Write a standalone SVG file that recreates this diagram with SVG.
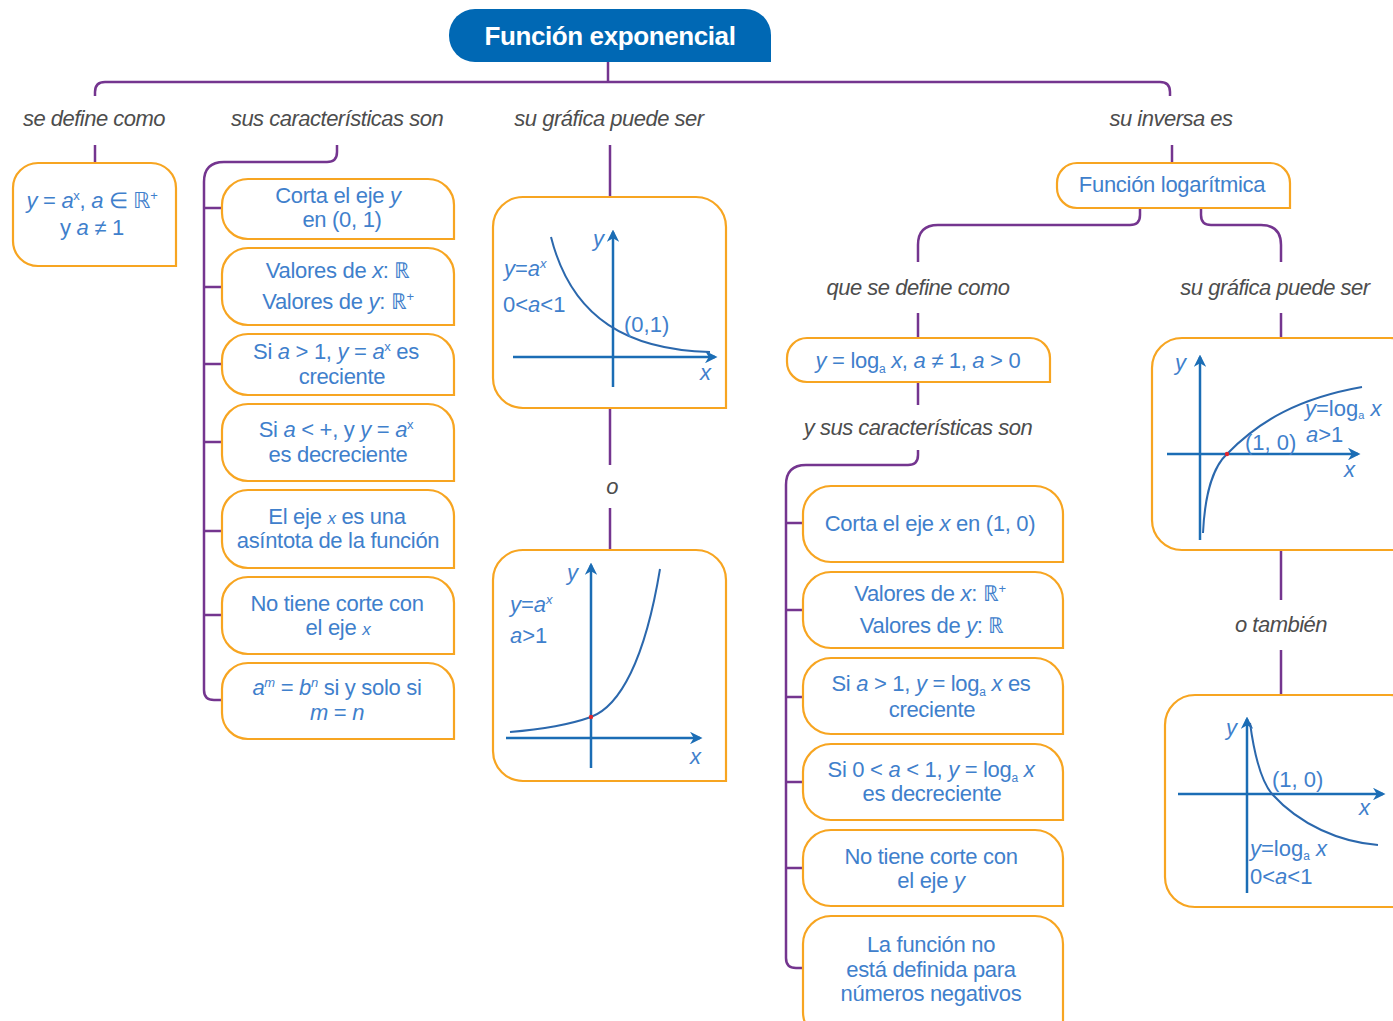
<svg xmlns="http://www.w3.org/2000/svg" width="1393" height="1021" viewBox="0 0 1393 1021">
<style>
.box{fill:#fff;stroke:#f7a521;stroke-width:2.2}
.con{fill:none;stroke:#74358f;stroke-width:2.5}
.lbl{font-family:"Liberation Sans",Arial,sans-serif;font-style:italic;font-size:22px;fill:#4d4d4d;letter-spacing:-0.5px;text-anchor:middle}
.bt{font-family:"Liberation Sans",Arial,sans-serif;font-size:22px;fill:#3f80cc;letter-spacing:-0.3px;text-anchor:middle}
.gt{font-family:"Liberation Sans",Arial,sans-serif;font-size:22px;fill:#3f80cc;letter-spacing:0px}
.i{font-style:italic}
.ax{fill:none;stroke:#1b6db5;stroke-width:2.5}
.cv{fill:none;stroke:#2b68ad;stroke-width:2}
.title{font-family:"Liberation Sans",Arial,sans-serif;font-weight:bold;font-size:26px;fill:#fff;letter-spacing:-0.4px;text-anchor:middle}
</style>
<defs>
<marker id="ah" viewBox="0 0 10 10" refX="8" refY="5" markerWidth="5" markerHeight="5" orient="auto"><path d="M0,0 L10,5 L0,10 L3,5 Z" fill="#1b6db5"/></marker>
</defs>
<rect width="1393" height="1021" fill="#fff"/>

<g id="connectors">
<path class="con" d="M608,62 V82"/>
<path class="con" d="M95,96 V92 Q95,82 105,82 H1160 Q1170,82 1170,92 V96"/>
<path class="con" d="M95,145 V163"/>
<path class="con" d="M337,145 V152 Q337,162 327,162 H224 Q204,162 204,182 V690 Q204,700 214,700 H222"/>
<path class="con" d="M204,208 H222 M204,287 H222 M204,364 H222 M204,442 H222 M204,531 H222 M204,615 H222"/>
<path class="con" d="M610,145 V197 M610,408 V465 M610,508 V550"/>
<path class="con" d="M1172,145 V163"/>
<path class="con" d="M1140,208 V215 Q1140,225 1130,225 H938 Q918,225 918,245 V262"/>
<path class="con" d="M1201,208 V215 Q1201,225 1211,225 H1261 Q1281,225 1281,245 V262"/>
<path class="con" d="M918,313 V338 M918,382 V405"/>
<path class="con" d="M918,450 V455 Q918,465 908,465 H806 Q786,465 786,485 V958 Q786,968 796,968 H803"/>
<path class="con" d="M786,523 H803 M786,610 H803 M786,697 H803 M786,782 H803 M786,868 H803"/>
<path class="con" d="M1281,313 V338 M1281,550 V600 M1281,650 V695"/>
</g>

<g id="title">
<path d="M475,9 H745 A26,26 0 0 1 771,35 V62 H475 A26,26 0 0 1 449,36 V35 A26,26 0 0 1 475,9 Z" fill="#0068b4"/>
<text class="title" x="610" y="45">Función exponencial</text>
</g>

<g id="labels">
<text class="lbl" x="94" y="126">se define como</text>
<text class="lbl" x="337" y="126">sus características son</text>
<text class="lbl" x="609" y="126">su gráfica puede ser</text>
<text class="lbl" x="1171" y="126">su inversa es</text>
<text class="lbl" x="612" y="494">o</text>
<text class="lbl" x="918" y="295">que se define como</text>
<text class="lbl" x="918" y="435">y sus características son</text>
<text class="lbl" x="1275" y="295">su gráfica puede ser</text>
<text class="lbl" x="1281" y="632">o también</text>
</g>

<g id="def-exp">
<path class="box" d="M38,163 H151 A25,25 0 0 1 176,188 V266 H38 A25,25 0 0 1 13,241 V188 A25,25 0 0 1 38,163 Z"/>
<text class="bt" x="92" y="208"><tspan class="i">y</tspan> = <tspan class="i">a</tspan><tspan font-size="13" dy="-8">x</tspan><tspan dy="8">, </tspan><tspan class="i">a</tspan> ∈ ℝ<tspan font-size="13" dy="-8">+</tspan></text>
<text class="bt" x="92" y="235">y <tspan class="i">a</tspan> ≠ 1</text>
</g>

<g id="car-1">
<path class="box" d="M248,179 H428 A26,26 0 0 1 454,205 V239 H248 A26,26 0 0 1 222,213 V205 A26,26 0 0 1 248,179 Z"/>
<text class="bt" x="338" y="203">Corta el eje <tspan class="i">y</tspan></text>
<text class="bt" x="342" y="227">en (0, 1)</text>
</g>
<g id="car-2">
<path class="box" d="M248,248 H428 A26,26 0 0 1 454,274 V325 H248 A26,26 0 0 1 222,299 V274 A26,26 0 0 1 248,248 Z"/>
<text class="bt" x="338" y="278">Valores de <tspan class="i">x</tspan>: ℝ</text>
<text class="bt" x="338" y="309">Valores de <tspan class="i">y</tspan>: ℝ<tspan font-size="13" dy="-8">+</tspan></text>
</g>
<g id="car-3">
<path class="box" d="M248,334 H428 A26,26 0 0 1 454,360 V395 H248 A26,26 0 0 1 222,369 V360 A26,26 0 0 1 248,334 Z"/>
<text class="bt" x="336" y="359">Si <tspan class="i">a</tspan> &gt; 1, <tspan class="i">y</tspan> = <tspan class="i">a</tspan><tspan font-size="13" dy="-8">x</tspan><tspan dy="8"> es</tspan></text>
<text class="bt" x="342" y="384">creciente</text>
</g>
<g id="car-4">
<path class="box" d="M248,404 H428 A26,26 0 0 1 454,430 V481 H248 A26,26 0 0 1 222,455 V430 A26,26 0 0 1 248,404 Z"/>
<text class="bt" x="336" y="437">Si <tspan class="i">a</tspan> &lt; +, y <tspan class="i">y</tspan> = <tspan class="i">a</tspan><tspan font-size="13" dy="-8">x</tspan></text>
<text class="bt" x="338" y="462">es decreciente</text>
</g>
<g id="car-5">
<path class="box" d="M248,490 H428 A26,26 0 0 1 454,516 V568 H248 A26,26 0 0 1 222,542 V516 A26,26 0 0 1 248,490 Z"/>
<text class="bt" x="337" y="524">El eje <tspan class="i" font-size="17">x</tspan> es una</text>
<text class="bt" x="338" y="548">asíntota de la función</text>
</g>
<g id="car-6">
<path class="box" d="M248,577 H428 A26,26 0 0 1 454,603 V654 H248 A26,26 0 0 1 222,628 V603 A26,26 0 0 1 248,577 Z"/>
<text class="bt" x="337" y="611">No tiene corte con</text>
<text class="bt" x="338" y="635">el eje <tspan class="i" font-size="17">x</tspan></text>
</g>
<g id="car-7">
<path class="box" d="M248,663 H428 A26,26 0 0 1 454,689 V739 H248 A26,26 0 0 1 222,713 V689 A26,26 0 0 1 248,663 Z"/>
<text class="bt" x="337" y="695"><tspan class="i">a</tspan><tspan font-size="13" dy="-8" class="i">m</tspan><tspan dy="8"> = </tspan><tspan class="i">b</tspan><tspan font-size="13" dy="-8" class="i">n</tspan><tspan dy="8"> si y solo si</tspan></text>
<text class="bt" x="337" y="720"><tspan class="i">m</tspan> = <tspan class="i">n</tspan></text>
</g>

<g id="graph-exp-dec">
<path class="box" d="M523,197 H696 A30,30 0 0 1 726,227 V408 H523 A30,30 0 0 1 493,378 V227 A30,30 0 0 1 523,197 Z"/>
<path class="ax" d="M613,387 V232" marker-end="url(#ah)"/>
<path class="ax" d="M513,357 H715" marker-end="url(#ah)"/>
<path class="cv" d="M551,237 C572,320 630,350 710,352"/>
<text class="gt i" x="593" y="246">y</text>
<text class="gt i" x="700" y="380">x</text>
<text class="gt" x="504" y="276"><tspan class="i">y</tspan>=<tspan class="i">a</tspan><tspan font-size="13" dy="-8" class="i">x</tspan></text>
<text class="gt" x="503" y="312" letter-spacing="2.5">0&lt;<tspan class="i">a</tspan>&lt;1</text>
<text class="gt" x="624" y="332" letter-spacing="-1">(0,1)</text>
</g>

<g id="graph-exp-inc">
<path class="box" d="M523,550 H696 A30,30 0 0 1 726,580 V781 H523 A30,30 0 0 1 493,751 V580 A30,30 0 0 1 523,550 Z"/>
<path class="ax" d="M591,768 V565" marker-end="url(#ah)"/>
<path class="ax" d="M506,738 H700" marker-end="url(#ah)"/>
<path class="cv" d="M510,732 Q560,728 591,717 C620,706 645,660 660,569"/>
<circle cx="591" cy="717" r="2.2" fill="#e0262e"/>
<text class="gt i" x="567" y="580">y</text>
<text class="gt i" x="690" y="764">x</text>
<text class="gt" x="510" y="612"><tspan class="i">y</tspan>=<tspan class="i">a</tspan><tspan font-size="13" dy="-8" class="i">x</tspan></text>
<text class="gt" x="510" y="643" letter-spacing="1"><tspan class="i">a</tspan>&gt;1</text>
</g>

<g id="func-log">
<path class="box" d="M1077,163 H1270 A20,20 0 0 1 1290,183 V208 H1077 A20,20 0 0 1 1057,188 V183 A20,20 0 0 1 1077,163 Z"/>
<text class="bt" x="1172" y="192">Función logarítmica</text>
</g>

<g id="def-log">
<path class="box" d="M807,338 H1030 A20,20 0 0 1 1050,358 V382 H807 A20,20 0 0 1 787,362 V358 A20,20 0 0 1 807,338 Z"/>
<text class="bt" x="918" y="368"><tspan class="i">y</tspan> = log<tspan font-size="12" dy="5">a</tspan><tspan dy="-5"> </tspan><tspan class="i">x</tspan>, <tspan class="i">a</tspan> ≠ 1, <tspan class="i">a</tspan> &gt; 0</text>
</g>

<g id="log-1">
<path class="box" d="M831,486 H1035 A28,28 0 0 1 1063,514 V562 H831 A28,28 0 0 1 803,534 V514 A28,28 0 0 1 831,486 Z"/>
<text class="bt" x="930" y="531">Corta el eje <tspan class="i">x</tspan> en (1, 0)</text>
</g>
<g id="log-2">
<path class="box" d="M831,572 H1035 A28,28 0 0 1 1063,600 V648 H831 A28,28 0 0 1 803,620 V600 A28,28 0 0 1 831,572 Z"/>
<text class="bt" x="930" y="601">Valores de <tspan class="i">x</tspan>: ℝ<tspan font-size="13" dy="-8">+</tspan></text>
<text class="bt" x="932" y="633">Valores de <tspan class="i">y</tspan>: ℝ</text>
</g>
<g id="log-3">
<path class="box" d="M831,658 H1035 A28,28 0 0 1 1063,686 V734 H831 A28,28 0 0 1 803,706 V686 A28,28 0 0 1 831,658 Z"/>
<text class="bt" x="931" y="691">Si <tspan class="i">a</tspan> &gt; 1, <tspan class="i">y</tspan> = log<tspan font-size="12" dy="5">a</tspan><tspan dy="-5"> </tspan><tspan class="i">x</tspan> es</text>
<text class="bt" x="932" y="717">creciente</text>
</g>
<g id="log-4">
<path class="box" d="M831,744 H1035 A28,28 0 0 1 1063,772 V820 H831 A28,28 0 0 1 803,792 V772 A28,28 0 0 1 831,744 Z"/>
<text class="bt" x="931" y="777">Si 0 &lt; <tspan class="i">a</tspan> &lt; 1, <tspan class="i">y</tspan> = log<tspan font-size="12" dy="5">a</tspan><tspan dy="-5"> </tspan><tspan class="i">x</tspan></text>
<text class="bt" x="932" y="801">es decreciente</text>
</g>
<g id="log-5">
<path class="box" d="M831,830 H1035 A28,28 0 0 1 1063,858 V906 H831 A28,28 0 0 1 803,878 V858 A28,28 0 0 1 831,830 Z"/>
<text class="bt" x="931" y="864">No tiene corte con</text>
<text class="bt" x="931" y="888">el eje <tspan class="i">y</tspan></text>
</g>
<g id="log-6">
<path class="box" d="M831,916 H1035 A28,28 0 0 1 1063,944 V1040 H831 A28,28 0 0 1 803,1012 V944 A28,28 0 0 1 831,916 Z"/>
<text class="bt" x="931" y="952">La función no</text>
<text class="bt" x="931" y="977">está definida para</text>
<text class="bt" x="931" y="1001">números negativos</text>
</g>

<g id="graph-log-inc">
<path class="box" d="M1182,338 H1390 A30,30 0 0 1 1420,368 V550 H1182 A30,30 0 0 1 1152,520 V368 A30,30 0 0 1 1182,338 Z"/>
<path class="ax" d="M1200,540 V357" marker-end="url(#ah)"/>
<path class="ax" d="M1167,454 H1358" marker-end="url(#ah)"/>
<path class="cv" d="M1203,533 C1205,490 1215,465 1227,454 C1260,420 1300,398 1362,387"/>
<circle cx="1227" cy="454" r="2.2" fill="#e0262e"/>
<text class="gt i" x="1175" y="370">y</text>
<text class="gt i" x="1344" y="477">x</text>
<text class="gt" x="1305" y="416" font-size="21"><tspan class="i">y</tspan>=log<tspan font-size="11" dy="3">a</tspan><tspan dy="-3" class="i"> x</tspan></text>
<text class="gt" x="1306" y="442" font-size="20" letter-spacing="1"><tspan class="i">a</tspan>&gt;1</text>
<text class="gt" x="1245" y="450" font-size="20" letter-spacing="-0.8">(1, 0)</text>
</g>

<g id="graph-log-dec">
<path class="box" d="M1195,695 H1390 A30,30 0 0 1 1420,725 V907 H1195 A30,30 0 0 1 1165,877 V725 A30,30 0 0 1 1195,695 Z"/>
<path class="ax" d="M1247,893 V719" marker-end="url(#ah)"/>
<path class="ax" d="M1178,794 H1383" marker-end="url(#ah)"/>
<path class="cv" d="M1250,723 C1255,760 1262,782 1272,794 C1300,825 1340,842 1378,845"/>
<text class="gt i" x="1226" y="735">y</text>
<text class="gt i" x="1359" y="815">x</text>
<text class="gt" x="1272" y="787" letter-spacing="-0.8">(1, 0)</text>
<text class="gt" x="1250" y="856"><tspan class="i">y</tspan>=log<tspan font-size="12" dy="4">a</tspan><tspan dy="-4" class="i"> x</tspan></text>
<text class="gt" x="1250" y="884" letter-spacing="2.5">0&lt;<tspan class="i">a</tspan>&lt;1</text>
</g>
</svg>
